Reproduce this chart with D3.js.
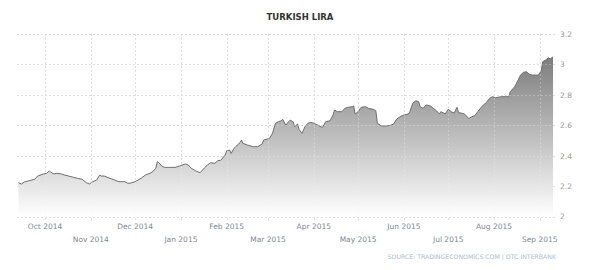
<!DOCTYPE html>
<html>
<head>
<meta charset="utf-8">
<script src="https://cdn.jsdelivr.net/npm/d3@7"></script>
<style>
html,body{margin:0;padding:0;background:#fff;}
svg{display:block;}
</style>
</head>
<body>
<svg id="chart" width="600" height="270"></svg>
<script>
const title = "TURKISH LIRA";
const sourceText = "SOURCE: TRADINGECONOMICS.COM | OTC INTERBANK";

const dates = [
"2014-09-13","2014-09-15","2014-09-17","2014-09-20","2014-09-24","2014-09-26","2014-09-30",
"2014-10-02","2014-10-04","2014-10-05","2014-10-07","2014-10-09","2014-10-12","2014-10-14",
"2014-10-17","2014-10-20","2014-10-23","2014-10-26","2014-10-29","2014-10-31",
"2014-11-02","2014-11-05","2014-11-07","2014-11-08","2014-11-10","2014-11-14","2014-11-17",
"2014-11-20","2014-11-24","2014-11-26","2014-11-28",
"2014-12-01","2014-12-03","2014-12-05","2014-12-08","2014-12-11","2014-12-13","2014-12-15",
"2014-12-16","2014-12-17","2014-12-19","2014-12-21","2014-12-24","2014-12-28","2014-12-31",
"2015-01-04","2015-01-06","2015-01-08","2015-01-11","2015-01-14","2015-01-17","2015-01-19",
"2015-01-21","2015-01-24","2015-01-26","2015-01-28","2015-01-31",
"2015-02-01","2015-02-03","2015-02-04","2015-02-06","2015-02-07","2015-02-10","2015-02-11",
"2015-02-12","2015-02-15","2015-02-19","2015-02-22","2015-02-25","2015-02-26",
"2015-03-02","2015-03-04","2015-03-06","2015-03-08","2015-03-10","2015-03-11","2015-03-13",
"2015-03-14","2015-03-16","2015-03-18","2015-03-19","2015-03-21","2015-03-22","2015-03-24",
"2015-03-26","2015-03-28","2015-03-30",
"2015-04-01","2015-04-04","2015-04-06","2015-04-07","2015-04-09","2015-04-12","2015-04-14",
"2015-04-15","2015-04-17","2015-04-20","2015-04-22","2015-04-24","2015-04-27","2015-04-28",
"2015-04-29",
"2015-05-01","2015-05-03","2015-05-06","2015-05-08","2015-05-11","2015-05-13","2015-05-14",
"2015-05-17","2015-05-20","2015-05-23","2015-05-25","2015-05-27","2015-05-30",
"2015-06-01","2015-06-04","2015-06-05","2015-06-07","2015-06-09","2015-06-11","2015-06-12",
"2015-06-14","2015-06-16","2015-06-19","2015-06-21","2015-06-23","2015-06-25","2015-06-26",
"2015-06-29",
"2015-07-01","2015-07-03","2015-07-05","2015-07-07","2015-07-08","2015-07-10","2015-07-12",
"2015-07-15","2015-07-17","2015-07-19","2015-07-21","2015-07-24","2015-07-27","2015-07-29",
"2015-07-31",
"2015-08-02","2015-08-06","2015-08-09","2015-08-11","2015-08-12","2015-08-15","2015-08-17",
"2015-08-19","2015-08-21","2015-08-23","2015-08-25","2015-08-27","2015-08-31",
"2015-09-02","2015-09-03","2015-09-05","2015-09-07","2015-09-08","2015-09-10"
];

const values = [
2.222,2.214,2.227,2.235,2.245,2.266,2.280,
2.284,2.300,2.290,2.280,2.284,2.280,2.273,
2.266,2.258,2.251,2.245,2.222,2.214,
2.227,2.240,2.273,2.266,2.266,2.251,2.240,
2.229,2.229,2.218,2.220,
2.229,2.240,2.251,2.273,2.284,2.295,2.317,
2.360,2.355,2.332,2.323,2.323,2.323,2.332,
2.345,2.339,2.317,2.300,2.288,2.320,2.339,
2.354,2.350,2.367,2.370,2.404,
2.433,2.436,2.415,2.448,2.459,2.485,2.503,
2.481,2.470,2.459,2.459,2.477,2.503,
2.514,2.547,2.613,2.623,2.630,2.639,2.600,
2.613,2.634,2.623,2.590,2.608,2.573,2.547,
2.590,2.613,2.619,
2.613,2.600,2.590,2.587,2.623,2.630,2.667,
2.700,2.689,2.689,2.711,2.718,2.722,2.726,
2.674,
2.689,2.718,2.722,2.711,2.705,2.696,2.613,
2.595,2.595,2.600,2.608,2.640,2.660,
2.667,2.674,2.689,2.744,2.761,2.755,2.722,
2.711,2.733,2.727,2.711,2.696,2.674,2.689,
2.674,
2.705,2.689,2.680,2.718,2.683,2.680,2.674,
2.645,2.656,2.663,2.689,2.725,2.751,2.777,
2.788,
2.781,2.788,2.788,2.788,2.820,2.853,2.890,
2.930,2.948,2.952,2.935,2.930,2.930,
2.957,3.018,3.029,3.044,3.035,3.050
];

const yTicks = [2, 2.2, 2.4, 2.6, 2.8, 3, 3.2];
const xTickMonths = ["2014-10-01","2014-11-01","2014-12-01","2015-01-01","2015-02-01","2015-03-01",
  "2015-04-01","2015-05-01","2015-06-01","2015-07-01","2015-08-01","2015-09-01"];
const xDomain = ["2014-09-12","2015-09-12"];

const parse = d3.timeParse("%Y-%m-%d");
const data = dates.map((d, i) => ({date: parse(d), value: values[i]}));

const svg = d3.select("#chart");
const mLeft = 17, mRight = 556, mTop = 34, mBottom = 216.5;

const x = d3.scaleTime().domain(xDomain.map(parse)).range([mLeft, mRight]);
const y = d3.scaleLinear().domain([2, 3.2]).range([mBottom, mTop]);

// gradient
const defs = svg.append("defs");
const grad = defs.append("linearGradient").attr("id", "areaGrad")
  .attr("gradientUnits", "userSpaceOnUse")
  .attr("x1", 0).attr("x2", 0).attr("y1", mTop).attr("y2", mBottom);
grad.append("stop").attr("offset", "0%").attr("stop-color", "#6a6a6a");
grad.append("stop").attr("offset", "100%").attr("stop-color", "#ffffff");

function drawGrid(g, color) {
  g.selectAll("line.h").data(yTicks).join("line").attr("class", "h")
    .attr("x1", mLeft).attr("x2", mRight)
    .attr("y1", d => Math.round(y(d)) + 0.5).attr("y2", d => Math.round(y(d)) + 0.5)
    .attr("stroke", color).attr("stroke-dasharray", "2,2").attr("stroke-width", 1);
  g.selectAll("line.v").data(xTickMonths.map(parse)).join("line").attr("class", "v")
    .attr("x1", d => Math.round(x(d)) + 0.5).attr("x2", d => Math.round(x(d)) + 0.5)
    .attr("y1", mTop).attr("y2", mBottom + 4)
    .attr("stroke", color).attr("stroke-dasharray", "2,2").attr("stroke-width", 1);
}

drawGrid(svg.append("g"), "#d6d6d6");

// area + line
const area = d3.area().x(d => x(d.date)).y0(y(2)).y1(d => y(d.value));
const line = d3.line().x(d => x(d.date)).y(d => y(d.value));
svg.append("path").datum(data).attr("d", area).attr("fill", "url(#areaGrad)");
svg.append("path").datum(data).attr("d", line).attr("fill", "none")
  .attr("stroke", "#6e6e6e").attr("stroke-width", 1);

// faint grid over the area
drawGrid(svg.append("g").attr("opacity", 0.3), "#f4f4f4");

// y axis labels (right)
const yAxis = d3.axisRight(y).tickValues(yTicks).tickSize(0).tickPadding(4)
  .tickFormat(d3.format("~g"));
const yg = svg.append("g").attr("transform", `translate(${mRight},0)`).call(yAxis);
yg.select(".domain").remove();
yg.selectAll("text").attr("fill", "#9a9a9a").attr("font-family", "DejaVu Sans, sans-serif")
  .attr("font-size", 7.5);

// x axis labels, staggered
const fmt = d3.timeFormat("%b %Y");
const xg = svg.append("g");
xg.selectAll("text").data(xTickMonths.map(parse)).join("text")
  .attr("x", d => x(d))
  .attr("y", (d, i) => i % 2 === 0 ? 229 : 241.5)
  .attr("text-anchor", "middle")
  .attr("fill", "#7d8896")
  .attr("font-family", "DejaVu Sans, sans-serif")
  .attr("font-size", 7.5)
  .text(d => fmt(d));

// title
svg.append("text").attr("x", 300).attr("y", 20).attr("text-anchor", "middle")
  .attr("font-family", "DejaVu Sans, sans-serif").attr("font-weight", "bold")
  .attr("font-size", 8.5).attr("fill", "#333").text(title);

// source
svg.append("text").attr("x", mRight).attr("y", 259).attr("text-anchor", "end")
  .attr("font-family", "DejaVu Sans, sans-serif").attr("font-size", 6.2)
  .attr("fill", "#a8bdd3").text(sourceText);
</script>
</body>
</html>
